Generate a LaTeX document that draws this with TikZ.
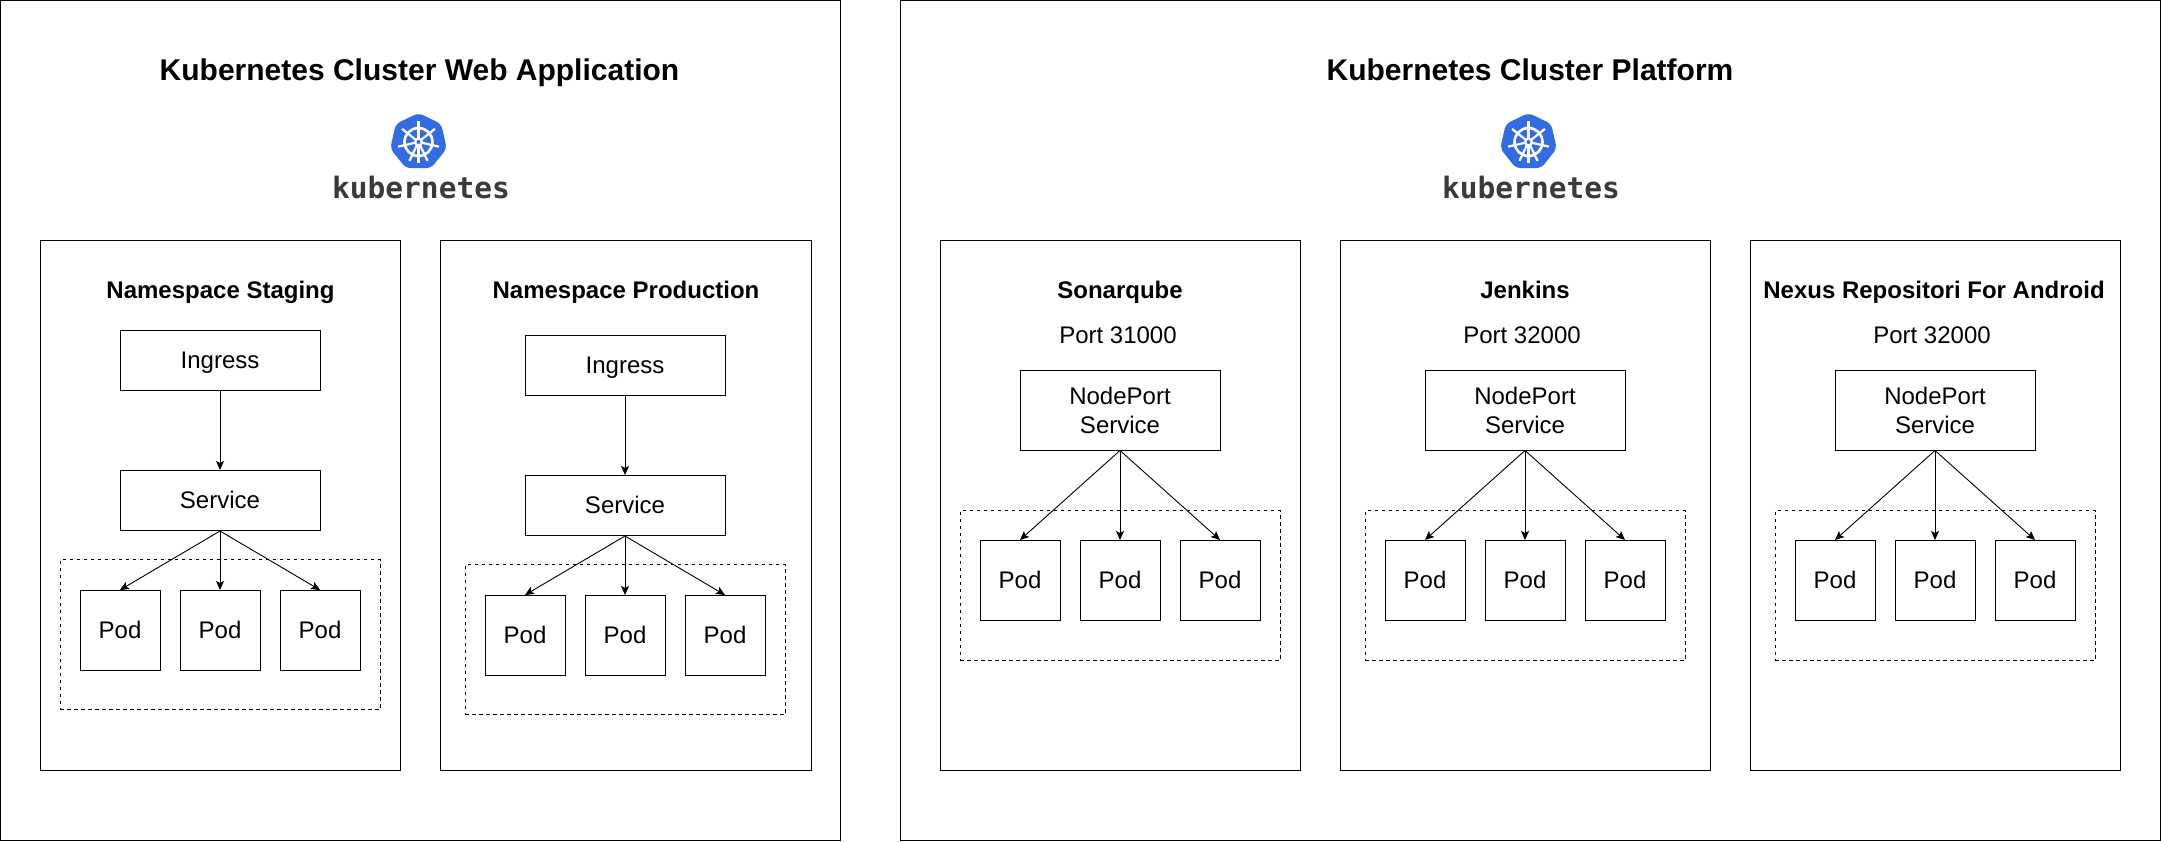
\documentclass[tikz,border=0pt]{standalone}
\usepackage{fontspec}
\setmainfont{Liberation Sans}
\newfontfamily\wordfont{DejaVu Sans Mono}
\usetikzlibrary{arrows.meta,shapes.geometric}
\definecolor{kubeblue}{HTML}{326CE5}
\definecolor{kubegray}{HTML}{3A3A3A}
\tikzset{
  frame/.style={draw,line width=1pt,inner sep=0pt},
  box/.style={draw,line width=1pt,inner sep=0pt,font=\fontsize{24}{29}\selectfont,text height=16pt,text depth=0pt},
  twoline/.style={draw,line width=1pt,inner sep=0pt,align=center,font=\fontsize{24}{29}\selectfont},
  group/.style={draw,line width=.9pt,inner sep=0pt,dash pattern=on 3.5pt off 3.5pt},
  heading/.style={inner sep=0pt,font=\fontsize{30}{36}\bfseries\selectfont,text height=22pt,text depth=0pt},
  subheading/.style={inner sep=0pt,font=\fontsize{24}{28}\bfseries\selectfont,text height=18pt,text depth=0pt},
  portlabel/.style={inner sep=0pt,font=\fontsize{24}{28}\selectfont,text height=18pt,text depth=0pt},
  link/.style={draw,line width=.9pt,-{Stealth[length=9pt,width=8pt,inset=2pt]}},
  spoke/.style={draw=white,line width=2.2pt},
  pics/kubelogo/.style={code={
    \node[regular polygon,regular polygon sides=7,minimum size=58pt,inner sep=0pt,fill=kubeblue,rounded corners=5pt] (-hept) at (0,0) {};
    \path[spoke] (-90:21) -- (90:21);
    \path[spoke] (-38.57:21) -- (0,0);
    \path[spoke] (12.86:21) -- (0,0);
    \path[spoke] (64.29:21) -- (0,0);
    \path[spoke] (115.71:21) -- (0,0);
    \path[spoke] (167.14:21) -- (0,0);
    \path[spoke] (218.57:21) -- (0,0);
    \draw[white,line width=2.6pt] (0,0) circle (14);
    \fill[white] (0,0) circle (4.5);
    \fill[kubeblue] (0,0) circle (2);
    \node[inner sep=0pt,text=kubegray,font=\fontsize{29.5}{30}\wordfont\bfseries\selectfont] (-word) at (2.5,46) {kubernetes};
  }}
}
\begin{document}
\begin{tikzpicture}[x=1pt,y=-1pt]
\useasboundingbox (0,0) rectangle (2161,842);
% left cluster
\node[frame,minimum width=840pt,minimum height=840pt] (webcluster) at (420.5,420.5) {};
\node[heading] (webtitle) at (419.5,70) {Kubernetes Cluster Web Application};
\pic (weblogo) at (418.5,142) {kubelogo};
\node[frame,minimum width=360pt,minimum height=530pt] (staging) at (220,505.5) {};
\node[frame,minimum width=371pt,minimum height=530pt] (production) at (625.5,505.5) {};
\node[subheading] (stagingtitle) at (220.5,290) {Namespace Staging};
\node[subheading] (productiontitle) at (626,290) {Namespace Production};
% staging
\node[box,minimum width=200pt,minimum height=60pt] (ing1) at (220,360.5) {Ingress};
\node[box,minimum width=200pt,minimum height=60pt] (svc1) at (220,500.5) {Service};
\node[group,minimum width=320pt,minimum height=150pt] (grp1) at (220,634.5) {};
\node[box,minimum width=80pt,minimum height=80pt] (pod11) at (120,630.5) {Pod};
\node[box,minimum width=80pt,minimum height=80pt] (pod12) at (220,630.5) {Pod};
\node[box,minimum width=80pt,minimum height=80pt] (pod13) at (320,630.5) {Pod};
\path[link] (ing1) -- (svc1);
\path[link] (svc1.south) -- (pod11.north);
\path[link] (svc1.south) -- (pod12.north);
\path[link] (svc1.south) -- (pod13.north);
% production
\node[box,minimum width=200pt,minimum height=60pt] (ing2) at (625,365.5) {Ingress};
\node[box,minimum width=200pt,minimum height=60pt] (svc2) at (625,505.5) {Service};
\node[group,minimum width=320pt,minimum height=150pt] (grp2) at (625,639.5) {};
\node[box,minimum width=80pt,minimum height=80pt] (pod21) at (525,635.5) {Pod};
\node[box,minimum width=80pt,minimum height=80pt] (pod22) at (625,635.5) {Pod};
\node[box,minimum width=80pt,minimum height=80pt] (pod23) at (725,635.5) {Pod};
\path[link] (ing2) -- (svc2);
\path[link] (svc2.south) -- (pod21.north);
\path[link] (svc2.south) -- (pod22.north);
\path[link] (svc2.south) -- (pod23.north);
% right cluster
\node[frame,minimum width=1260pt,minimum height=840pt] (platcluster) at (1530.5,420.5) {};
\node[heading] (plattitle) at (1530,70) {Kubernetes Cluster Platform};
\pic (platlogo) at (1528.5,142) {kubelogo};
\node[frame,minimum width=360pt,minimum height=530pt] (sonar) at (1120,505.5) {};
\node[frame,minimum width=370pt,minimum height=530pt] (jenkins) at (1525,505.5) {};
\node[frame,minimum width=370pt,minimum height=530pt] (nexus) at (1935,505.5) {};
% sonarqube
\node[subheading] (sonartitle) at (1120,290) {Sonarqube};
\node[portlabel] (sonarport) at (1118,335) {Port 31000};
\node[twoline,minimum width=200pt,minimum height=80pt] (svc3) at (1120,410) {NodePort\\Service};
\node[group,minimum width=320pt,minimum height=150pt] (grp3) at (1120,585.5) {};
\node[box,minimum width=80pt,minimum height=80pt] (pod31) at (1020,580.5) {Pod};
\node[box,minimum width=80pt,minimum height=80pt] (pod32) at (1120,580.5) {Pod};
\node[box,minimum width=80pt,minimum height=80pt] (pod33) at (1220,580.5) {Pod};
\path[link] (svc3.south) -- (pod31.north);
\path[link] (svc3.south) -- (pod32.north);
\path[link] (svc3.south) -- (pod33.north);
% jenkins
\node[subheading] (jenkinstitle) at (1525,290) {Jenkins};
\node[portlabel] (jenkinsport) at (1522,335) {Port 32000};
\node[twoline,minimum width=200pt,minimum height=80pt] (svc4) at (1525,410) {NodePort\\Service};
\node[group,minimum width=320pt,minimum height=150pt] (grp4) at (1525,585.5) {};
\node[box,minimum width=80pt,minimum height=80pt] (pod41) at (1425,580.5) {Pod};
\node[box,minimum width=80pt,minimum height=80pt] (pod42) at (1525,580.5) {Pod};
\node[box,minimum width=80pt,minimum height=80pt] (pod43) at (1625,580.5) {Pod};
\path[link] (svc4.south) -- (pod41.north);
\path[link] (svc4.south) -- (pod42.north);
\path[link] (svc4.south) -- (pod43.north);
% nexus
\node[subheading] (nexustitle) at (1934,290) {Nexus Repositori For Android};
\node[portlabel] (nexusport) at (1932,335) {Port 32000};
\node[twoline,minimum width=200pt,minimum height=80pt] (svc5) at (1935,410) {NodePort\\Service};
\node[group,minimum width=320pt,minimum height=150pt] (grp5) at (1935,585.5) {};
\node[box,minimum width=80pt,minimum height=80pt] (pod51) at (1835,580.5) {Pod};
\node[box,minimum width=80pt,minimum height=80pt] (pod52) at (1935,580.5) {Pod};
\node[box,minimum width=80pt,minimum height=80pt] (pod53) at (2035,580.5) {Pod};
\path[link] (svc5.south) -- (pod51.north);
\path[link] (svc5.south) -- (pod52.north);
\path[link] (svc5.south) -- (pod53.north);
\end{tikzpicture}
\end{document}
